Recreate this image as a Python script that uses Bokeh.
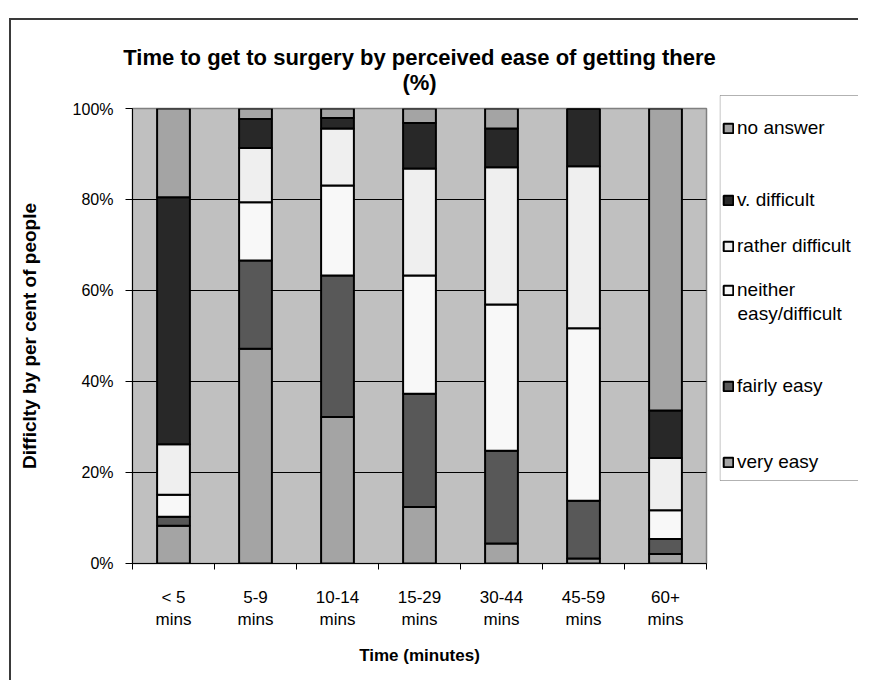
from bokeh.plotting import figure
from bokeh.layouts import row, column
from bokeh.models import (ColumnDataSource, Legend, LegendItem, FixedTicker,
                          PrintfTickFormatter, BoxAnnotation, Label)
from bokeh.embed import file_html
from bokeh.resources import INLINE

# ---- data ----
categories = ["< 5 mins", "5-9 mins", "10-14 mins", "15-29 mins",
              "30-44 mins", "45-59 mins", "60+ mins"]
tick_labels = ["< 5\nmins", "5-9\nmins", "10-14\nmins", "15-29\nmins",
               "30-44\nmins", "45-59\nmins", "60+\nmins"]
very_easy = [8.3, 47.2, 32.2, 12.4, 4.4, 1.1, 2.1]
fairly_easy = [2.0, 19.4, 31.1, 24.9, 20.4, 12.7, 3.3]
neither = [4.8, 12.8, 19.8, 26.0, 32.1, 37.9, 6.3]
rather_difficult = [11.1, 11.9, 12.5, 23.5, 30.2, 35.6, 11.5]
v_difficult = [54.3, 6.4, 2.3, 10.0, 8.5, 12.7, 10.4]
no_answer = [19.5, 2.3, 2.1, 3.2, 4.4, 0.0, 66.4]
y_ticks = [0, 20, 40, 60, 80, 100]

title_lines = ["Time to get to surgery by perceived ease of getting there", "(%)"]
series_keys = ["very_easy", "fairly_easy", "neither", "rather_difficult",
               "v_difficult", "no_answer"]
series_labels = ["very easy", "fairly easy", "neither",
                 "rather difficult", "v. difficult", "no answer"]
series_colors = ["#a4a4a4", "#585858", "#f8f8f8", "#efefef", "#282828", "#a4a4a4"]

FONT = "Liberation Sans"

x_pos = [i + 0.5 for i in range(len(categories))]
source = ColumnDataSource(dict(
    x=x_pos, very_easy=very_easy, fairly_easy=fairly_easy, neither=neither,
    rather_difficult=rather_difficult, v_difficult=v_difficult,
    no_answer=no_answer))


def blank_panel(w, h):
    f = figure(width=w, height=h, x_range=(0, w), y_range=(0, h),
               output_backend="svg", toolbar_location=None,
               x_axis_location=None, y_axis_location=None,
               min_border=0, outline_line_color=None)
    f.grid.visible = False
    f.background_fill_color = "white"
    f.border_fill_color = "white"
    return f


# ---- header (chart title) ----
HW, HH = 708, 80
header = blank_panel(HW, HH)
for txt, yy in zip(title_lines, [43, 18]):
    header.add_layout(Label(x=408, y=yy, text=txt, text_align="center",
                            text_baseline="middle", text_font=FONT,
                            text_font_size="22px", text_font_style="bold",
                            text_color="black"))

# ---- main chart ----
p = figure(width=708, height=580, x_range=(0, len(categories)),
           y_range=(0, 100), output_backend="svg", toolbar_location=None,
           min_border_left=121, min_border_right=13,
           min_border_top=8, min_border_bottom=117)

p.background_fill_color = "#c0c0c0"
p.border_fill_color = "white"
p.outline_line_color = "#808080"
p.outline_line_width = 1.5

renderers = p.vbar_stack(series_keys, x="x", width=0.4, source=source,
                         fill_color=series_colors, line_color="black",
                         line_width=2)

p.xgrid.visible = False
p.ygrid.grid_line_color = "black"
p.ygrid.grid_line_width = 1

p.yaxis.ticker = FixedTicker(ticks=y_ticks)
p.yaxis.formatter = PrintfTickFormatter(format="%d%%")
p.yaxis.major_tick_out = 7
p.yaxis.major_tick_in = 0
p.yaxis.minor_tick_line_color = None
p.yaxis.axis_line_color = "black"
p.yaxis.major_label_text_font = FONT
p.yaxis.major_label_text_font_size = "16px"
p.yaxis.major_label_text_color = "black"
p.yaxis.major_label_standoff = 12
p.yaxis.axis_label = "Difficlty by per cent of people"
p.yaxis.axis_label_text_font = FONT
p.yaxis.axis_label_text_font_size = "19px"
p.yaxis.axis_label_text_font_style = "bold"
p.yaxis.axis_label_text_color = "black"
p.yaxis.axis_label_standoff = 30

p.xaxis.ticker = FixedTicker(ticks=x_pos,
                             minor_ticks=list(range(len(categories) + 1)))
p.xaxis.major_label_overrides = {xp: lbl for xp, lbl in zip(x_pos, tick_labels)}
p.xaxis.major_tick_line_color = None
p.xaxis.minor_tick_out = 6
p.xaxis.minor_tick_in = 0
p.xaxis.minor_tick_line_color = "black"
p.xaxis.axis_line_color = "black"
p.xaxis.major_label_text_font = FONT
p.xaxis.major_label_text_font_size = "17px"
p.xaxis.major_label_text_color = "black"
p.xaxis.major_label_standoff = 18
p.xaxis.axis_label = "Time (minutes)"
p.xaxis.axis_label_text_font = FONT
p.xaxis.axis_label_text_font_size = "17px"
p.xaxis.axis_label_text_font_style = "bold"
p.xaxis.axis_label_text_color = "black"
p.xaxis.axis_label_standoff = 14

# ---- legend panel (pixel coordinates, origin at bottom-left) ----
LW, LH = 139, 660
q = blank_panel(LW, LH)

for f in (header, p, q):
    if "frame_align" in f.properties():
        f.frame_align = False

box = BoxAnnotation(left=0.5, right=LW + 50, bottom=200, top=585,
                    fill_alpha=0, line_color="black", line_width=1)
q.add_layout(box)

# hidden copies of the series, used only as legend entries
legend_renderers = q.vbar_stack(series_keys, x="x", width=0.4, source=source,
                                fill_color=series_colors, line_color="black",
                                line_width=2)
for r in legend_renderers:
    r.visible = False

row_centres = [218, 294, 390, 434, 480, 552]   # very easy ... no answer
glyph_x = 3
for i in reversed(range(len(series_keys))):
    lg = Legend(items=[LegendItem(label=series_labels[i],
                                  renderers=[legend_renderers[i]])],
                location=(glyph_x, row_centres[i] - 12),
                border_line_color=None, background_fill_alpha=0,
                inactive_fill_alpha=0,
                label_text_font=FONT, label_text_font_size="19px",
                label_text_color="black", glyph_width=12, glyph_height=12,
                label_standoff=3, label_height=24, padding=0, margin=0)
    q.add_layout(lg, "center")

q.add_layout(Label(x=glyph_x + 15, y=row_centres[2] - 23, text="easy/difficult",
                   text_baseline="middle", text_font=FONT,
                   text_font_size="19px", text_color="black"))

layout = row(column(header, p), q)
layout.styles = {"margin-left": "9px", "margin-top": "18px",
                 "border-left": "2px solid #3a3a3a",
                 "border-top": "2px solid #3a3a3a"}

open("out.html", "w").write(file_html(layout, INLINE))
